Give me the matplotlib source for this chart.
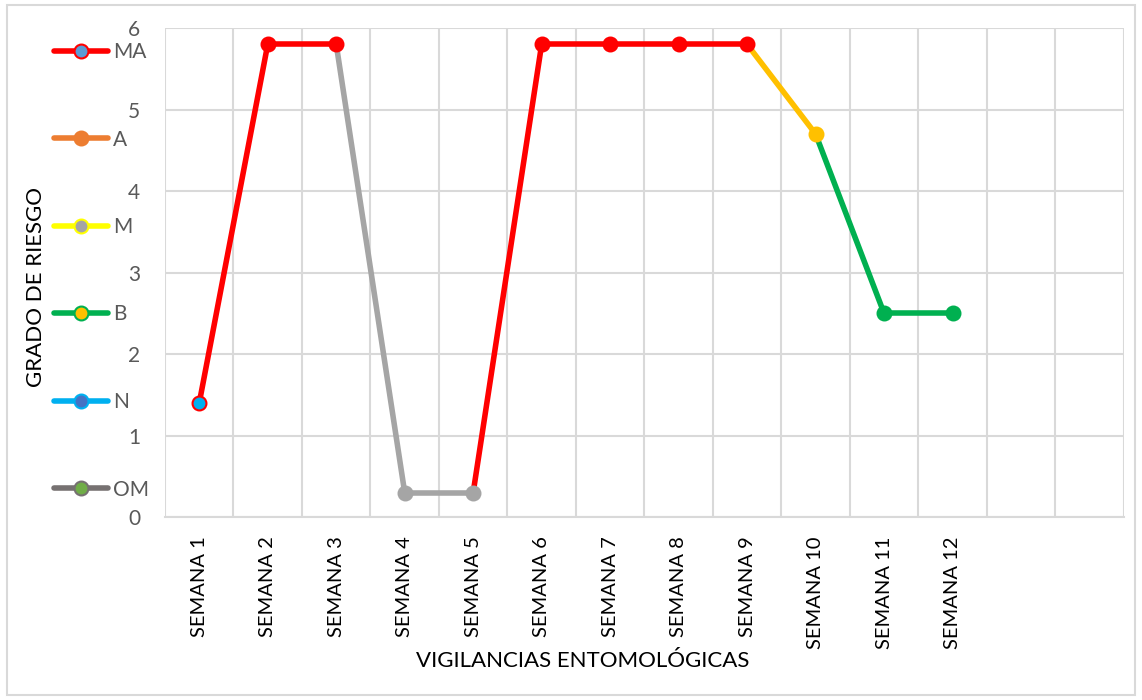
import matplotlib.pyplot as plt
from matplotlib.lines import Line2D
from matplotlib.patches import Rectangle

# data
semanas = ['SEMANA 1', 'SEMANA 2', 'SEMANA 3', 'SEMANA 4', 'SEMANA 5', 'SEMANA 6',
           'SEMANA 7', 'SEMANA 8', 'SEMANA 9', 'SEMANA 10', 'SEMANA 11', 'SEMANA 12']
riesgo = [1.4, 5.8, 5.8, 0.3, 0.3, 5.8, 5.8, 5.8, 5.8, 4.7, 2.5, 2.5]
# color of each point (line segment arriving to it takes the same color)
punto_color = ['#FF0000', '#FF0000', '#FF0000', '#A5A5A5', '#A5A5A5', '#FF0000',
               '#FF0000', '#FF0000', '#FF0000', '#FFC000', '#00B050', '#00B050']
n_slots = 14

plt.rcParams['font.family'] = ['Lato', 'DejaVu Sans']

fig = plt.figure(figsize=(11.42, 7), dpi=100)
fig.patches.append(Rectangle((0.006, 0.007), 0.988, 0.986, transform=fig.transFigure,
                             fill=False, edgecolor='#D9D9D9', lw=1.5))
ax = fig.add_axes([0.1445, 0.2614, 0.8395, 0.6986])

x = list(range(len(riesgo)))
for i in range(1, len(riesgo)):
    ax.plot(x[i-1:i+1], riesgo[i-1:i+1], color=punto_color[i], lw=4,
            solid_capstyle='round', zorder=3)

# markers
for i in range(len(riesgo)):
    face = punto_color[i]
    edge = punto_color[i]
    if i == 0:
        face = '#00B0F0'
    ax.plot(x[i], riesgo[i], 'o', ms=10, mfc=face, mec=edge, mew=1.5, zorder=4)

ax.set_xlim(-0.5, n_slots - 0.5)
ax.set_ylim(0, 6)
ax.set_xticks(x)
ax.set_xticklabels(semanas, rotation=90, fontsize=14.5, color='#000000')
ax.set_xticks([k - 0.5 for k in range(n_slots + 1)], minor=True)
ax.set_yticks(range(7))
ax.set_yticklabels([str(v) for v in range(7)], fontsize=15, color='#595959')
ax.tick_params(axis='both', which='both', length=0)
ax.tick_params(axis='x', pad=14)
ax.tick_params(axis='y', pad=18)
ax.grid(True, axis='y', which='major', color='#D9D9D9', lw=1.5)
ax.grid(True, axis='x', which='minor', color='#D9D9D9', lw=1.5)
for s in ax.spines.values():
    s.set_visible(False)
ax.spines['bottom'].set_visible(True)
ax.spines['bottom'].set_color('#D9D9D9')
ax.spines['bottom'].set_linewidth(1.5)

ax.set_xlabel('VIGILANCIAS ENTOMOLÓGICAS', fontsize=16)
ax.xaxis.set_label_coords(0.436, -0.273)
ax.set_ylabel('GRADO DE RIESGO', fontsize=16, labelpad=0)
ax.yaxis.set_label_coords(-0.124, 0.47)

# legend
leg_labels = ['MA', 'A', 'M', 'B', 'N', 'OM']
leg_line = ['#FF0000', '#ED7D31', '#FFFF00', '#00B050', '#00B0F0', '#767171']
leg_face = ['#5B9BD5', '#ED7D31', '#A5A5A5', '#FFC000', '#4472C4', '#70AD47']
handles = [Line2D([0], [0], color=c, lw=4, solid_capstyle='round', marker='o', ms=10,
                  mfc=f, mec=c, mew=1.5) for c, f in zip(leg_line, leg_face)]
fig.legend(handles, leg_labels, loc='upper left', bbox_to_anchor=(0.047, 0.94),
           frameon=False, fontsize=15, labelcolor='#595959', handlelength=2.6,
           handletextpad=0.25, labelspacing=3.24, borderpad=0, borderaxespad=0)

fig.savefig('out.png', dpi=100)
